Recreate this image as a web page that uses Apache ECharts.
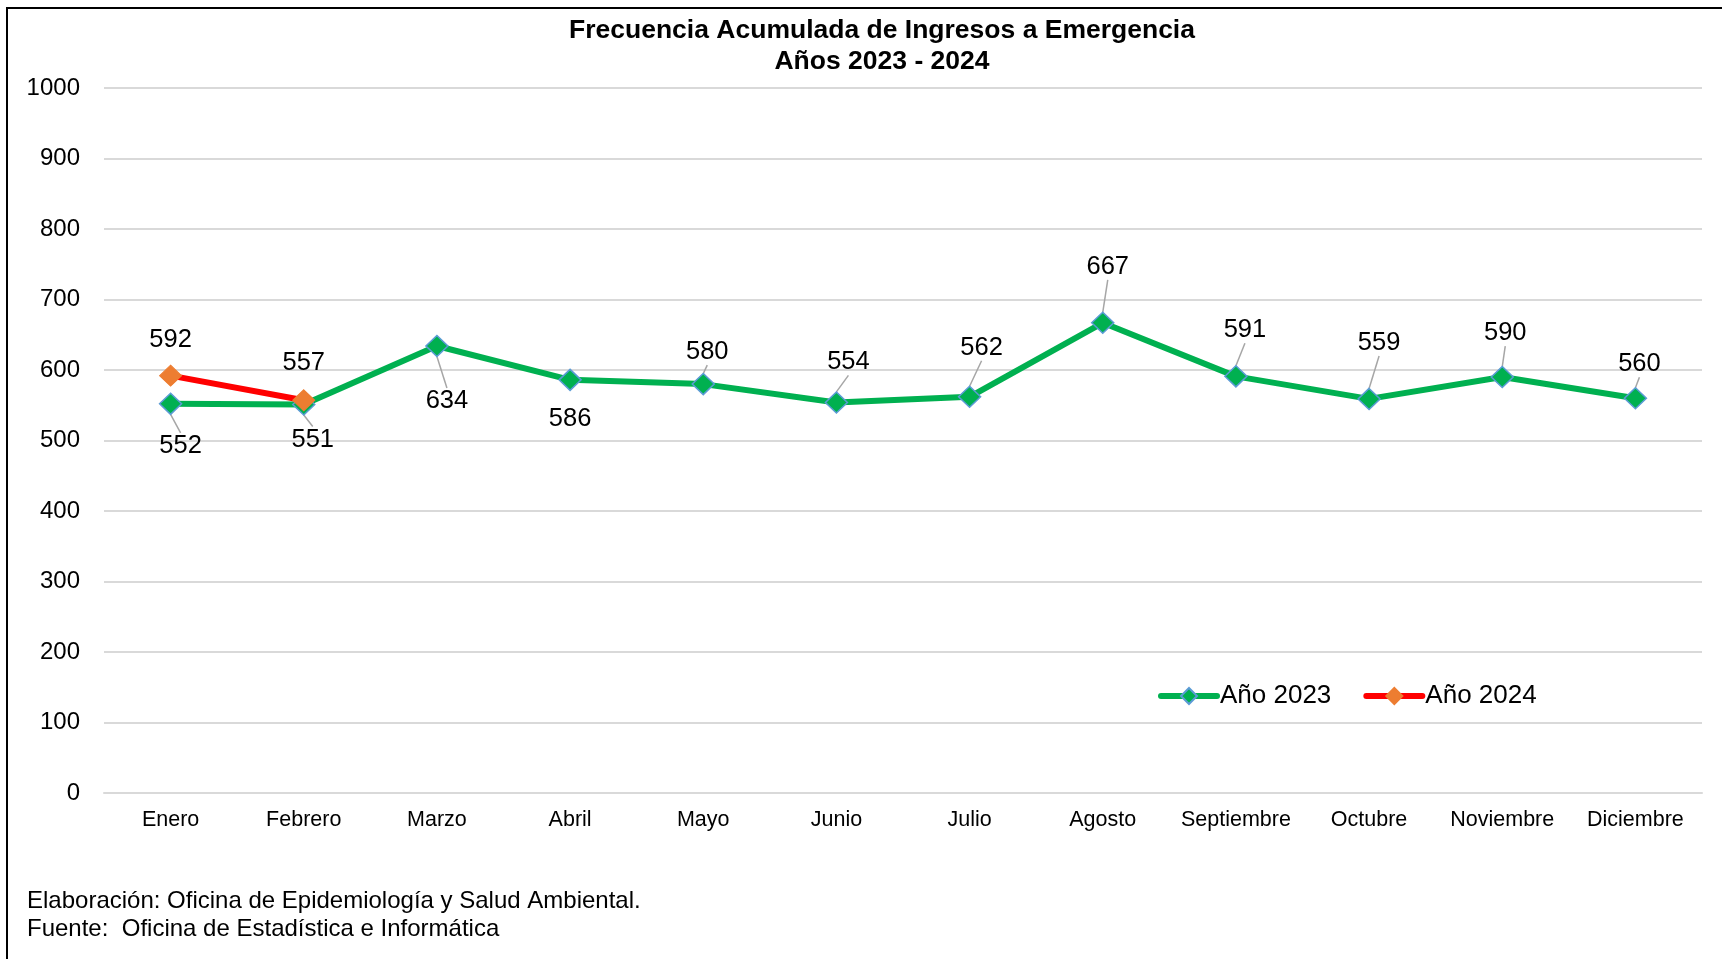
<!DOCTYPE html>
<html>
<head>
<meta charset="utf-8">
<title>Frecuencia Acumulada de Ingresos a Emergencia</title>
<script src="https://cdn.jsdelivr.net/npm/echarts@6/dist/echarts.min.js"></script>
<style>
  html, body { margin: 0; padding: 0; background: #fff; }
  #chart { width: 1722px; height: 959px; }
</style>
</head>
<body>
<div id="chart"></div>
<script>
// meses del eje x
var meses = ["Enero", "Febrero", "Marzo", "Abril", "Mayo", "Junio", "Julio",
  "Agosto", "Septiembre", "Octubre", "Noviembre", "Diciembre"];
// ingresos por mes
var anio2023 = [552, 551, 634, 586, 580, 554, 562, 667, 591, 559, 590, 560];
var anio2024 = [592, 557];
// ticks del eje y
var yMin = 0;
var yMax = 1000;
var yPaso = 100;

// desplazamiento de cada etiqueta respecto a su punto (px)
var despl2023 = [[10, 42], [9, 35], [10, 55], [0, 39], [4, -32], [12, -40],
  [12, -49], [5, -56], [9, -46], [10, -56], [3, -44], [4, -34]];
var despl2024 = [[0, -36], [0, -37]];

var fuente = "'Liberation Sans', Arial, sans-serif";

var chart = echarts.init(document.getElementById("chart"));

function puntos(valores, sinLinea) {
  return valores.map(function (v, i) {
    var item = { value: v };
    if (sinLinea && sinLinea.indexOf(i) >= 0) {
      item.labelLine = { show: false };
    }
    return item;
  });
}

var option = {
  backgroundColor: "#fff",
  animation: false,
  textStyle: { fontFamily: fuente },
  title: {
    text: "Frecuencia Acumulada de Ingresos a Emergencia\nAños 2023 - 2024",
    left: 877,
    top: 10,
    textAlign: "center",
    textStyle: {
      fontFamily: fuente,
      fontSize: 26.5,
      fontWeight: "bold",
      color: "#000",
      lineHeight: 31,
    },
  },
  legend: {
    left: 1153,
    top: 678,
    itemWidth: 56,
    itemHeight: 20,
    itemGap: 32,
    lineStyle: { width: 6, cap: "round" },
    textStyle: { fontSize: 26, color: "#000", fontFamily: fuente, padding: [0, 0, 0, -2] },
    data: ["Año 2023", "Año 2024"],
  },
  grid: { left: 104, right: 20, top: 88, bottom: 166 },
  xAxis: {
    type: "category",
    data: meses,
    boundaryGap: true,
    axisLine: { lineStyle: { color: "#d9d9d9", width: 2 } },
    axisTick: { show: false },
    axisLabel: { color: "#000", fontSize: 21.5, margin: 16, interval: 0 },
  },
  yAxis: {
    type: "value",
    min: yMin,
    max: yMax,
    interval: yPaso,
    axisLine: { show: false },
    axisTick: { show: false },
    axisLabel: {
      color: "#000",
      fontSize: 24,
      margin: 24,
      formatter: function (v) { return String(v); },
    },
    splitLine: { lineStyle: { color: "#d9d9d9", width: 2 } },
  },
  series: [
    {
      name: "Año 2023",
      type: "line",
      data: puntos(anio2023, [3]),
      symbol: "diamond",
      symbolSize: [22, 21],
      lineStyle: { color: "#00b050", width: 6 },
      itemStyle: { color: "#00b050", borderColor: "#5b9bd5", borderWidth: 1.5 },
      z: 2,
      label: {
        show: true,
        position: "inside",
        fontSize: 25.5,
        color: "#000",
        fontFamily: fuente,
      },
      labelLine: { show: true, lineStyle: { color: "#a6a6a6", width: 1.5 } },
      labelLayout: function (p) {
        var d = despl2023[p.dataIndex];
        return { dx: d[0], dy: d[1] };
      },
    },
    {
      name: "Año 2024",
      type: "line",
      data: puntos(anio2024, [0, 1]),
      symbol: "diamond",
      symbolSize: [22, 21],
      lineStyle: { color: "#ff0000", width: 6 },
      itemStyle: { color: "#ed7d31", borderColor: "#ed7d31", borderWidth: 1 },
      z: 3,
      label: {
        show: true,
        position: "inside",
        fontSize: 25.5,
        color: "#000",
        fontFamily: fuente,
      },
      labelLayout: function (p) {
        var d = despl2024[p.dataIndex];
        return { dx: d[0], dy: d[1] };
      },
    },
  ],
  graphic: [
    // marco del grafico
    {
      type: "rect",
      shape: { x: 7, y: 8, width: 1800, height: 1000 },
      style: { fill: "none", stroke: "#000", lineWidth: 2 },
      silent: true,
    },
    {
      type: "text",
      left: 27,
      top: 888,
      style: {
        text: "Elaboración: Oficina de Epidemiología y Salud Ambiental.\nFuente:  Oficina de Estadística e Informática",
        fontSize: 24,
        lineHeight: 27.5,
        fill: "#000",
        fontFamily: fuente,
      },
    },
  ],
};

chart.setOption(option);
</script>
</body>
</html>
